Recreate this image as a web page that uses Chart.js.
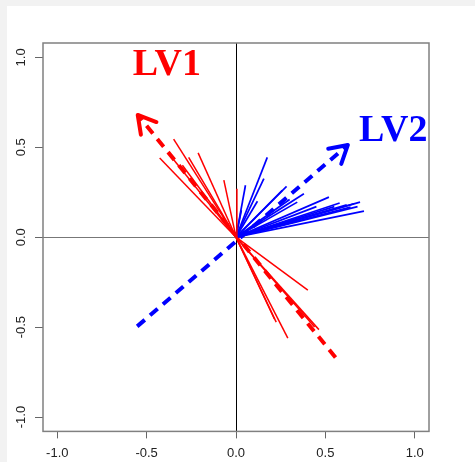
<!DOCTYPE html>
<html>
<head>
<meta charset="utf-8">
<script src="https://cdn.jsdelivr.net/npm/chart.js@4/dist/chart.umd.min.js"></script>
<style>
  html, body { margin: 0; padding: 0; background: #f2f2f2; }
  #wrap { position: relative; width: 475px; height: 462px; }
</style>
</head>
<body>
<div id="wrap"><canvas id="chart" width="475" height="462"></canvas></div>
<script>
// axis ticks
const tickValues = [-1.0, -0.5, 0.0, 0.5, 1.0];

// loadings (red block, drawn as segments from the origin)
const redX = [-0.349, -0.427, -0.212, -0.265, -0.068, 0.005, -0.30, -0.38, 0.402, 0.225, 0.215, 0.29, 0.464, 0.44];
const redY = [0.545, 0.441, 0.469, 0.444, 0.317, 0.27, 0.40, 0.47, -0.294, -0.472, -0.455, -0.561, -0.514, -0.50];

// loadings (blue block)
const blueX = [0.175, 0.156, 0.053, 0.283, 0.259, 0.52, 0.694, 0.66, 0.716, 0.641, 0.38, 0.343, 0.03, 0.12, 0.58, 0.55, 0.62, 0.68, 0.45, 0.30];
const blueY = [0.444, 0.326, 0.289, 0.283, 0.26, 0.223, 0.195, 0.186, 0.145, 0.167, 0.242, 0.195, 0.15, 0.20, 0.19, 0.17, 0.18, 0.17, 0.17, 0.21];

// latent variable directions (tail, tip)
const lv1X = [0.557, -0.55];
const lv1Y = [-0.669, 0.68];
const lv2X = [-0.553, 0.626];
const lv2Y = [-0.496, 0.513];

// latent variable labels
const lvNames = ["LV1", "LV2"];
const lvLabelX = [-0.387, 0.88];
const lvLabelY = [0.955, 0.591];

const RED = "#ff0000";
const BLUE = "#0000ff";

function segment(x, y, color, width) {
  return {
    data: [{x: 0, y: 0}, {x: x, y: y}],
    borderColor: color,
    borderWidth: width,
    pointRadius: 0,
    tension: 0
  };
}

const datasets = [];
redX.forEach((x, i) => datasets.push(segment(x, redY[i], RED, 1.5)));
blueX.forEach((x, i) => datasets.push(segment(x, blueY[i], BLUE, 1.7)));

const lvSets = [
  {xs: lv1X, ys: lv1Y, color: RED},
  {xs: lv2X, ys: lv2Y, color: BLUE}
];
const lvIndex = [];
lvSets.forEach(lv => {
  lvIndex.push(datasets.length);
  datasets.push({
    data: lv.xs.map((x, i) => ({x: x, y: lv.ys[i]})),
    borderColor: lv.color,
    borderWidth: 4,
    borderDash: [10, 7],
    borderCapStyle: "butt",
    pointRadius: 0,
    tension: 0
  });
});

const fixTicks = scale => { scale.ticks = tickValues.map(v => ({value: v})); };

const biplotDecor = {
  id: "biplotDecor",
  beforeDraw(chart) {
    const ctx = chart.ctx;
    ctx.save();
    ctx.fillStyle = "#f2f2f2";
    ctx.fillRect(0, 0, chart.width, chart.height);
    ctx.fillStyle = "#ffffff";
    ctx.fillRect(7, 6, chart.width - 7, chart.height - 6);
    ctx.restore();
  },
  beforeDatasetsDraw(chart) {
    const {ctx, chartArea: a, scales: {x, y}} = chart;
    ctx.save();
    ctx.lineWidth = 1;
    ctx.strokeStyle = "#777777";
    const y0 = Math.round(y.getPixelForValue(0)) + 0.5;
    ctx.beginPath(); ctx.moveTo(a.left, y0); ctx.lineTo(a.right, y0); ctx.stroke();
    ctx.strokeStyle = "#000000";
    const x0 = Math.round(x.getPixelForValue(0)) + 0.5;
    ctx.beginPath(); ctx.moveTo(x0, a.top); ctx.lineTo(x0, a.bottom); ctx.stroke();
    ctx.restore();
  },
  afterDatasetsDraw(chart) {
    const {ctx, scales: {x, y}} = chart;
    ctx.save();
    // arrowheads on the latent variable tips
    lvIndex.forEach((di, k) => {
      const pts = chart.getDatasetMeta(di).data;
      const tail = pts[0], tip = pts[pts.length - 1];
      const ang = Math.atan2(tail.y - tip.y, tail.x - tip.x);
      const len = 20, spread = Math.PI / 6;
      ctx.strokeStyle = lvSets[k].color;
      ctx.lineWidth = 4;
      ctx.lineCap = "round";
      ctx.lineJoin = "round";
      ctx.beginPath();
      ctx.moveTo(tip.x + len * Math.cos(ang + spread), tip.y + len * Math.sin(ang + spread));
      ctx.lineTo(tip.x, tip.y);
      ctx.lineTo(tip.x + len * Math.cos(ang - spread), tip.y + len * Math.sin(ang - spread));
      ctx.stroke();
    });
    // labels
    ctx.font = "bold 38px 'Liberation Serif', serif";
    ctx.textAlign = "center";
    ctx.textBaseline = "middle";
    lvNames.forEach((name, k) => {
      ctx.fillStyle = lvSets[k].color;
      ctx.fillText(name, x.getPixelForValue(lvLabelX[k]), y.getPixelForValue(lvLabelY[k]));
    });
    ctx.restore();
  },
  afterDraw(chart) {
    const {ctx, chartArea: a, scales: {y}} = chart;
    ctx.save();
    ctx.strokeStyle = "#808080";
    ctx.lineWidth = 1.5;
    ctx.strokeRect(a.left, a.top, a.right - a.left, a.bottom - a.top);
    // rotated y tick labels
    ctx.fillStyle = "#222222";
    ctx.font = "13px 'Liberation Sans', Arial, sans-serif";
    ctx.textAlign = "center";
    ctx.textBaseline = "middle";
    tickValues.forEach(v => {
      ctx.save();
      ctx.translate(21, y.getPixelForValue(v));
      ctx.rotate(-Math.PI / 2);
      ctx.fillText(v.toFixed(1), 0, 0);
      ctx.restore();
    });
    ctx.restore();
  }
};

new Chart(document.getElementById("chart").getContext("2d"), {
  type: "line",
  data: {datasets: datasets},
  options: {
    responsive: false,
    animation: false,
    devicePixelRatio: 1,
    layout: {padding: {left: 35, top: 43, right: 46, bottom: -6}},
    plugins: {legend: {display: false}, tooltip: {enabled: false}},
    scales: {
      x: {
        type: "linear",
        min: -1.08, max: 1.08,
        afterBuildTicks: fixTicks,
        border: {display: false},
        grid: {drawOnChartArea: false, drawTicks: true, tickLength: 7, color: "#666666", lineWidth: 1},
        ticks: {
          color: "#222222",
          padding: 7,
          maxRotation: 0,
          font: {family: "'Liberation Sans', Arial, sans-serif", size: 13},
          callback: v => v.toFixed(1)
        }
      },
      y: {
        type: "linear",
        min: -1.08, max: 1.08,
        afterBuildTicks: fixTicks,
        border: {display: false},
        grid: {drawOnChartArea: false, drawTicks: true, tickLength: 8, color: "#666666", lineWidth: 1},
        ticks: {display: false}
      }
    }
  },
  plugins: [biplotDecor]
});
</script>
</body>
</html>
